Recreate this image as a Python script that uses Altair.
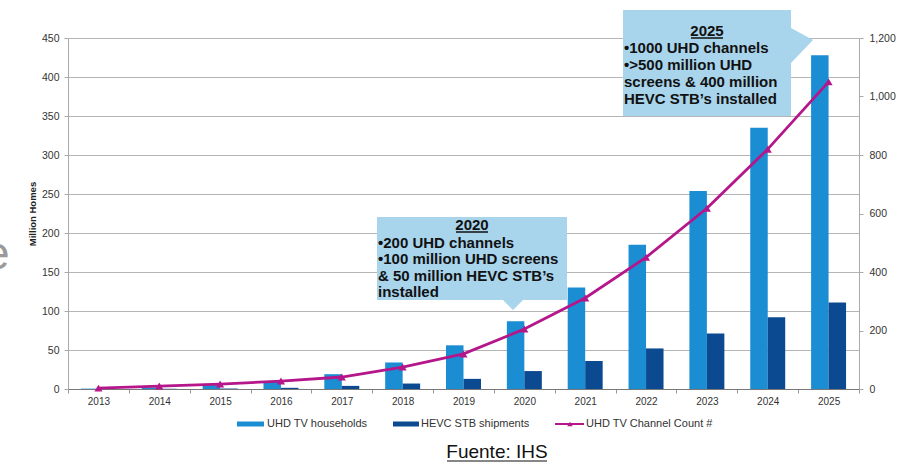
import altair as alt
import pandas as pd

# ---- data -------------------------------------------------------------
years = ["2013", "2014", "2015", "2016", "2017", "2018", "2019",
         "2020", "2021", "2022", "2023", "2024", "2025"]
uhd_households = [0.5, 2, 5, 10, 19, 34, 56, 87, 130, 185, 254, 335, 428]
hevc_shipments = [0, 0.3, 0.6, 1.5, 4, 7, 13, 23, 36, 52, 71, 92, 111]
channel_count = [3, 10, 17, 27, 41, 75, 120, 205, 311, 450, 618, 820, 1050]

series_names = ["UHD TV households", "HEVC STB shipments"]
line_name = "UHD TV Channel Count #"

note_2020_title = "2020"
note_2020_lines = ["\u2022200 UHD channels", "\u2022100 million UHD screens",
                   "& 50 million HEVC STB\u2019s", "installed"]
note_2025_title = "2025"
note_2025_lines = ["\u20221000 UHD channels", "\u2022>500 million UHD",
                   "screens & 400 million", "HEVC STB\u2019s installed"]
source_text = "Fuente: IHS"

# ---- style ------------------------------------------------------------
UHD_BLUE = "#1a8dd3"
HEVC_BLUE = "#0b4a91"
MAGENTA = "#b5168a"
NOTE_FILL = "#a8d4ec"
FONT = "Liberation Sans"
W, H = 791, 351

bars_df = pd.DataFrame({
    "year": years * 2,
    "series": [series_names[0]] * len(years) + [series_names[1]] * len(years),
    "value": uhd_households + hevc_shipments,
})
line_df = pd.DataFrame({"year": years, "channels": channel_count})
one = pd.DataFrame({"k": [0]})

x_enc = alt.X(
    "year:N", sort=years,
    scale=alt.Scale(domain=years, paddingInner=0, paddingOuter=0),
    axis=alt.Axis(title=None, labelAngle=0, labelFont=FONT, labelFontSize=10,
                  labelColor="#333", labelPadding=3, tickSize=4,
                  tickColor="#999", domainColor="#777", tickBand="extent"),
)

bars = alt.Chart(bars_df).mark_bar().encode(
    x=x_enc,
    xOffset=alt.XOffset("series:N", sort=series_names,
                        scale=alt.Scale(domain=series_names, paddingInner=0,
                                        paddingOuter=0.74)),
    y=alt.Y("value:Q", scale=alt.Scale(domain=[0, 450], nice=False),
            axis=alt.Axis(title="Million Homes", values=list(range(0, 451, 50)),
                          titleFont=FONT, titleFontSize=9.5, titleFontWeight="bold",
                          titleColor="#222", titlePadding=4,
                          labelFont=FONT, labelFontSize=10.5, labelColor="#333",
                          labelPadding=5, tickSize=4, tickColor="#aaa",
                          domainColor="#aaa", grid=True, gridColor="#b5b5b5")),
    color=alt.Color("series:N",
                    scale=alt.Scale(domain=series_names, range=[UHD_BLUE, HEVC_BLUE]),
                    legend=None),
)

right_axis = alt.Axis(orient="right", title="UHD TV Channels",
                      values=list(range(0, 1201, 200)), format=",.0f",
                      titleFont=FONT, titleFontSize=9.5, titleFontWeight="bold",
                      titleColor="#888", titlePadding=9,
                      labelFont=FONT, labelFontSize=10.5, labelColor="#333",
                      labelPadding=6, tickSize=4, tickColor="#aaa",
                      domainColor="#aaa", grid=False)

line = alt.Chart(line_df).mark_line(color=MAGENTA, strokeWidth=2.8).encode(
    x=x_enc,
    y=alt.Y("channels:Q", scale=alt.Scale(domain=[0, 1200], nice=False),
            axis=right_axis),
)
points = alt.Chart(line_df).mark_point(
    shape="triangle-up", filled=True, size=65, color=MAGENTA, opacity=1
).encode(
    x=x_enc,
    y=alt.Y("channels:Q", scale=alt.Scale(domain=[0, 1200], nice=False), axis=None),
)

# ---- call-out boxes ---------------------------------------------------
def shape(path, color):
    return alt.Chart(one).mark_point(
        shape=path, size=4, filled=True, color=color, opacity=1, strokeWidth=0
    ).encode(x=alt.value(0), y=alt.value(0))

def label(text, x, y, align="left", baseline="top", size=15, weight="bold",
          color="#111", font=FONT, line_height=None):
    kw = dict(align=align, baseline=baseline, fontSize=size, fontWeight=weight,
              color=color, font=font)
    if line_height is not None:
        kw["lineHeight"] = line_height
    return alt.Chart(one).mark_text(**kw).encode(
        x=alt.value(x), y=alt.value(y), text=alt.value(text))

def hline(x1, x2, y, color="#111", width=1.5):
    return alt.Chart(one).mark_rule(color=color, strokeWidth=width).encode(
        x=alt.value(x1), x2=alt.value(x2), y=alt.value(y))

box_2020 = shape("M309,179 H499 V262 H455 L445,272 L435,262 H309 Z", NOTE_FILL)
box_2025 = shape("M555,-28 H723 V-10 L745,2 L723,25 V78 H555 Z", NOTE_FILL)

notes = [
    box_2020,
    label(note_2020_title, 404, 187, align="center", baseline="middle"),
    hline(388, 420, 194),
    label(note_2020_lines, 310, 197.5, line_height=16.5),
    box_2025,
    label(note_2025_title, 639, -7, align="center", baseline="middle"),
    hline(623, 655, 0),
    label(note_2025_lines, 556, 2.5, line_height=17),
]

# ---- legend -------------------------------------------------------------
def swatch(x1, x2, color):
    return alt.Chart(one).mark_rect(color=color).encode(
        x=alt.value(x1), x2=alt.value(x2), y=alt.value(383.5), y2=alt.value(388.5))

legend = [
    swatch(169, 196, UHD_BLUE),
    label(series_names[0], 199, 386, baseline="middle", size=11, weight="normal", color="#333"),
    swatch(325, 351, HEVC_BLUE),
    label(series_names[1], 353, 386, baseline="middle", size=11, weight="normal", color="#333"),
    hline(487, 516, 386, color=MAGENTA, width=2),
    alt.Chart(one).mark_point(shape="triangle-up", filled=True, size=30,
                              color=MAGENTA, opacity=1).encode(
        x=alt.value(502), y=alt.value(386)),
    label(line_name, 518, 386, baseline="middle", size=11, weight="normal", color="#333"),
]

# ---- source line and stray watermark glyph ---------------------------
source = [
    label(source_text, 429, 414, align="center", baseline="middle", size=19,
          weight="normal", color="#111",
          font="Liberation Sans Narrow, Arial Narrow, Liberation Sans"),
    hline(379, 479, 423, color="#111", width=1.2),
    label("e", -84, 217, baseline="middle", size=46, weight="normal", color="#9a9a9a",
          font="Liberation Sans"),
]

chart = alt.layer(
    bars, line, points, *notes, *legend, *source
).resolve_scale(
    y="independent"
).properties(
    width=W, height=H,
    autosize=alt.AutoSizeParams(type="none"),
    padding={"left": 68, "top": 38, "right": 45, "bottom": 74},
    background="white",
).configure_view(stroke=None)

chart.save("out.html", embed_options={"renderer": "svg", "actions": False})
